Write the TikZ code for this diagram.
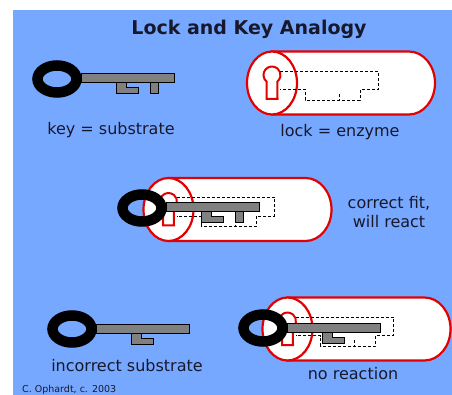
\documentclass[tikz,border=0pt]{standalone}
\usepackage{fontspec}
\newfontfamily\vfont{DejaVu Sans}
\definecolor{bgblue}{RGB}{119,168,255}
\definecolor{lockred}{RGB}{226,0,0}
\definecolor{shaftgray}{RGB}{128,128,128}
\definecolor{inkdark}{RGB}{24,24,44}
\tikzset{
  label/.style={font=\vfont\fontsize{16}{19}\selectfont, text=inkdark, inner sep=0pt, anchor=base},
  redline/.style={draw=lockred, line width=2.2pt, fill=white},
  slot/.style={draw=black, line width=0.9pt, dash pattern=on 3pt off 2pt},
  keypart/.style={draw=black, line width=1pt, fill=shaftgray},
  pics/key/.style={code={
    % ring
    \draw[black, line width=10.5pt] (0,0) ellipse[x radius=19.5, y radius=13.5];
    % shaft
    \draw[keypart] (24,-5) rectangle (117,4);
    % L-shaped bit
    \draw[keypart] (59,4) -- (59,15) -- (81,15) -- (81,9) -- (69,9) -- (69,4) -- cycle;
    % straight bit
    \draw[keypart] (93,4) rectangle (101,15);
  }},
  pics/shortkey/.style={code={
    \draw[black, line width=10.5pt] (0,0) ellipse[x radius=19.5, y radius=13.5];
    \draw[keypart] (24,-5) rectangle (117,4);
    \draw[keypart] (59,4) -- (59,15) -- (81,15) -- (81,9) -- (69,9) -- (69,4) -- cycle;
  }},
  pics/lock/.style={code={
    % cylinder body with rounded far end
    \draw[redline] (0,-31.5) -- (137,-31.5)
      arc[start angle=-90, end angle=90, x radius=26, y radius=31.5]
      -- (0,31.5) -- cycle;
    % front face
    \draw[redline] (0,0) ellipse[x radius=25, y radius=31.5];
    % keyhole
    \draw[draw=lockred, line width=2pt, fill=white] (-5.5,16) -- (-5.5,-1.5)
      arc[start angle=130, end angle=410, radius=8.5] -- (5.5,16) -- cycle;
    % key-shaped channel
    \draw[slot] (8,-12) -- (106,-12) -- (106,6.5) -- (88,6.5) -- (88,17)
      -- (33,17) -- (33,6.5) -- (8,6.5);
    \draw[slot] (67,11) -- (67,17);
  }}
}
\begin{document}
\begin{tikzpicture}[x=1pt, y=-1pt]
\useasboundingbox (0,0) rectangle (452,395);
\fill[white] (0,0) rectangle (452,395);
\fill[bgblue] (13,10) rectangle (452,395);

\node[label, font=\vfont\bfseries\fontsize{19}{22}\selectfont] (title) at (249,35) {Lock and Key Analogy};

% key on its own
\pic (keyA) at (57,79) {key};
\node[label] (keytxt) at (111,135) {key = substrate};

% empty lock
\pic (lockA) at (272,83) {lock};
\node[label] (locktxt) at (340,137) {lock = enzyme};

% key fitted into the lock
\pic (lockB) at (168.5,209.5) {lock};
\pic (keyB) at (142,208) {key};
\node[label, align=center, anchor=center] (fittxt) at (389,212) {correct fit,\\ will react};

% wrong key
\pic (keyC) at (72,329) {shortkey};
\node[label] (wrongtxt) at (127,371) {incorrect substrate};

\pic (lockC) at (287.5,329) {lock};
\pic (keyD) at (263,328) {shortkey};
\node[label] (notxt) at (353,379) {no reaction};

\node[label, font=\vfont\fontsize{9.5}{11}\selectfont, anchor=base west] (credit) at (22,392.5) {C. Ophardt, c. 2003};
\end{tikzpicture}
\end{document}
